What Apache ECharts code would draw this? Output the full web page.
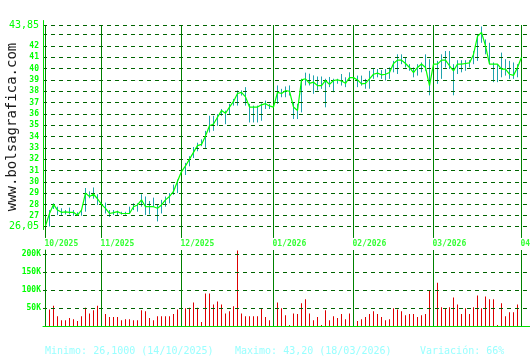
<!DOCTYPE html>
<html><head><meta charset="utf-8">
<script src="https://cdn.jsdelivr.net/npm/echarts@6/dist/echarts.min.js"></script>
<style>html,body{margin:0;padding:0;background:#fff}#c{width:530px;height:360px}</style>
</head><body><div id="c"></div>
<script>
// ---- data ----
const closes = [26.1,27.2,28.0,27.5,27.3,27.35,27.3,27.3,27.05,27.5,29.0,28.7,28.9,28.5,28.0,27.65,27.2,27.27,27.36,27.2,
27.2,27.2,27.8,27.95,28.4,27.8,27.8,27.8,27.66,27.95,28.4,28.7,29.15,30.05,30.9,31.4,32.0,32.6,33.2,33.3,
34.05,34.95,35.1,35.7,36.3,36.05,36.6,37.1,37.8,37.9,37.5,36.6,36.6,36.6,36.8,36.9,36.7,36.6,37.9,37.8,
38.05,38.0,36.6,36.3,39.0,39.1,38.7,38.8,38.5,38.5,38.95,38.6,38.95,39.0,38.9,38.7,39.2,39.2,39.0,38.65,
38.7,39.1,39.5,39.6,39.45,39.5,39.65,40.45,40.75,40.75,40.45,40.1,39.65,40.1,40.4,40.1,38.5,40.4,40.4,40.75,
40.75,40.25,39.8,40.4,40.4,40.45,40.5,41.25,42.85,43.2,42.0,40.4,40.4,40.4,39.95,39.95,39.5,39.4,40.1,41.0];
const highs = [26.5,27.5,28.1,27.8,27.66,27.5,27.72,27.5,27.3,27.6,29.45,29.15,29.5,28.9,28.3,28.16,27.5,27.5,27.45,27.35,
27.35,27.8,28.1,28.1,28.9,28.7,28.3,28.6,27.95,28.4,28.7,29.0,29.75,30.2,31.0,31.67,32.26,33.07,33.45,33.75,
34.5,35.83,35.83,35.98,36.43,36.28,36.88,37.32,38.07,38.07,38.36,36.88,36.73,36.73,36.93,37.17,36.88,36.9,38.51,38.21,
38.42,38.51,37.02,36.88,39.1,39.64,39.55,39.4,39.3,39.3,39.1,39.26,39.1,39.1,39.52,39.23,39.67,39.4,39.38,39.38,
39.09,39.8,39.96,39.96,39.87,39.96,40.1,40.68,41.26,41.26,40.97,40.39,40.1,40.39,40.54,41.26,40.83,40.6,40.68,41.26,
41.55,41.55,40.39,40.74,40.74,40.74,40.74,41.55,43.0,43.72,42.57,42.28,40.54,40.39,41.41,40.83,40.68,40.54,40.39,41.1];
const lows = [26.1,26.05,27.6,27.06,27.06,27.12,27.12,27.0,27.0,27.0,27.36,28.55,28.5,27.95,27.9,27.2,26.9,27.06,27.0,27.1,
27.1,27.2,27.5,27.36,27.8,27.06,27.12,27.8,26.5,27.2,27.8,28.1,28.85,29.0,29.5,30.6,31.37,32.1,32.7,33.15,
33.0,34.35,34.5,34.94,35.83,35.09,35.98,36.73,36.73,37.62,36.73,35.24,35.24,35.24,35.39,36.43,36.43,36.4,36.88,37.47,
37.47,37.62,35.54,35.54,36.13,38.51,38.51,37.77,38.07,38.21,36.58,38.36,37.92,38.66,38.5,38.36,38.94,39.0,38.36,38.5,
38.22,38.22,39.09,39.23,39.09,38.94,39.09,39.67,39.52,40.39,40.1,39.81,39.23,39.38,39.67,39.81,37.64,40.2,38.65,39.09,
40.1,39.96,37.64,39.52,39.67,39.81,40.1,40.39,40.68,42.28,41.26,40.39,38.8,38.8,39.23,39.38,39.09,39.09,39.23,40.1];
const volumesK = [22,46,56,27,16,16,22,19,14,27,51,35,44,56,35,33,25,25,25,16,
19,19,16,16,44,41,22,16,27,27,27,27,33,46,50,49,51,65,51,11,
90,90,60,68,60,35,41,55,210,35,27,27,27,27,49,25,16,30,65,49,
30,3,35,33,63,74,35,16,25,3,44,16,27,22,33,19,35,33,14,19,
25,33,41,33,25,16,19,49,46,41,30,33,33,25,30,33,99,64,120,52,
49,52,79,60,33,49,33,52,85,49,82,74,74,3,63,27,38,38,60,60];
const monthLabels = ['10/2025','11/2025','12/2025','01/2026','02/2026','03/2026','04/2026'];
const monthStartIdx = [0,14,34,57,77,97,119];
const priceGridValues = [26.05,27,28,29,30,31,32,33,34,35,36,37,38,39,40,41,42,43,43.85];
const priceTickLabels = ['26,05','27','28','29','30','31','32','33','34','35','36','37','38','39','40','41','42','','43,85'];
const volumeGridValues = [50,100,150,200];
const volumeTickLabels = ['50K','100K','150K','200K'];
const footerTexts = ['Minimo: 26,1000 (14/10/2025)','Maximo: 43,20 (18/03/2026)','Variación: 66%'];

// ---- layout ----
const XMIN = -0.625, XMAX = 121.125;
const PMIN = 25.034, PMAX = 44.292;
const VMAX = 211.11;
const MONO = '"DejaVu Sans Mono", monospace';
const GRIDC = '#006400', MONTHC = '#008000', AXISC = '#00e000', LBLC = '#00ff00';

const idx = closes.map((_, i) => i);
const closeData = idx.map(i => [i, closes[i]]);
const hlData = idx.map(i => [i, lows[i], highs[i]]);
const volData = idx.map(i => [i, volumesK[i]]);

const dashStyle = {type: [4, 4], color: GRIDC, width: 1, opacity: 1};
const monthStyle = {type: 'solid', color: MONTHC, width: 1, opacity: 1};
const axisStyle = {type: 'solid', color: AXISC, width: 1, opacity: 1};

const priceMarkLines = priceGridValues.map((v, k) => {
  const isEnd = (k === 0 || k === priceGridValues.length - 1);
  return {
    yAxis: v,
    label: {show: priceTickLabels[k] !== '', position: 'start', distance: 4, formatter: priceTickLabels[k],
      color: LBLC, fontFamily: MONO, fontSize: isEnd ? 10 : 8, fontWeight: isEnd ? 'normal' : 'bold'}
  };
});
const priceMonthLines = monthStartIdx.map(i => [{coord: [i, 43.85]}, {coord: [i, 25.04]}]);
const priceAxisLine = [[{coord: [-0.5, 25.75]}, {coord: [-0.5, 44.28]}]];

const volMarkLines = volumeGridValues.map((v, k) => ({
  yAxis: v,
  label: {show: true, position: 'start', distance: 2, formatter: volumeTickLabels[k],
    color: LBLC, fontFamily: MONO, fontSize: 8, fontWeight: 'bold'}
}));
const volMonthLines = monthStartIdx.map(i => [{coord: [i, 0]}, {coord: [i, VMAX - 0.01]}]);

function ml(data, style, z) {
  return {silent: true, symbol: ['none', 'none'], animation: false, z: z || 3,
    lineStyle: style, emphasis: {disabled: true, lineStyle: style}, label: {show: false}, data: data};
}

const chart = echarts.init(document.getElementById('c'), null, {renderer: 'canvas'});
chart.setOption({
  animation: false,
  backgroundColor: '#ffffff',
  grid: [
    {left: 43, right: 0, top: 20, height: 218},
    {left: 43, right: 0, top: 250, height: 76}
  ],
  xAxis: [
    {type: 'value', gridIndex: 0, min: XMIN, max: XMAX, show: false},
    {type: 'value', gridIndex: 1, min: XMIN, max: XMAX,
      axisLine: {show: true, onZero: false, lineStyle: {color: AXISC, width: 1}},
      axisTick: {show: false}, axisLabel: {show: false}, splitLine: {show: false}}
  ],
  yAxis: [
    {type: 'value', gridIndex: 0, min: PMIN, max: PMAX, show: false},
    {type: 'value', gridIndex: 1, min: 0, max: VMAX,
      axisLine: {show: true, lineStyle: {color: AXISC, width: 1}},
      axisTick: {show: false}, axisLabel: {show: false}, splitLine: {show: false}}
  ],
  series: [
    {
      type: 'custom', xAxisIndex: 0, yAxisIndex: 0, z: 2,
      data: hlData,
      renderItem: function (params, api) {
        const p1 = api.coord([api.value(0), api.value(1)]);
        const p2 = api.coord([api.value(0), api.value(2)]);
        return {type: 'line', shape: {x1: p1[0], y1: p1[1], x2: p2[0], y2: p2[1]},
          style: {stroke: '#1fa3ad', lineWidth: 1}};
      },
      markLine: ml(priceMonthLines, monthStyle)
    },
    {
      type: 'line', xAxisIndex: 0, yAxisIndex: 0, z: 4,
      data: closeData, symbol: 'none', lineStyle: {color: '#00ff00', width: 1.2},
      itemStyle: {color: GRIDC},
      markLine: Object.assign(ml(priceMarkLines, dashStyle), {label: {show: true}})
    },
    {
      type: 'scatter', xAxisIndex: 0, yAxisIndex: 0, z: 5,
      data: monthStartIdx.map((i, k) => ({value: [i, 25.05], name: monthLabels[k]})),
      symbolSize: 1, itemStyle: {color: 'rgba(0,0,0,0)'},
      label: {show: true, formatter: p => p.name, position: [-0.5, 3], align: 'left', verticalAlign: 'top',
        color: LBLC, fontFamily: MONO, fontSize: 8, fontWeight: 'bold'},
      silent: true,
      markLine: ml(priceAxisLine, axisStyle)
    },
    {
      type: 'bar', xAxisIndex: 1, yAxisIndex: 1, z: 2,
      data: volData, barWidth: 1, itemStyle: {color: '#dd0000'},
      markLine: Object.assign(ml(volMarkLines, dashStyle), {label: {show: true}})
    },
    {
      type: 'scatter', xAxisIndex: 1, yAxisIndex: 1, z: 3,
      data: [[0, 0]], symbolSize: 0.01, itemStyle: {color: 'rgba(0,0,0,0)'}, silent: true,
      markLine: ml(volMonthLines, monthStyle)
    }
  ],
  graphic: [
    {type: 'text', x: 12, y: 127, rotation: Math.PI / 2,
      style: {text: 'www.bolsagrafica.com', x: 0, y: 0, align: 'center', verticalAlign: 'middle',
        textAlign: 'center', textVerticalAlign: 'middle', font: '14px ' + MONO, fill: '#1a1a1a'}},
    {type: 'text', x: 45, y: 351, style: {text: footerTexts[0], verticalAlign: 'middle', textVerticalAlign: 'middle', font: '10px ' + MONO, fill: '#99ffff'}},
    {type: 'text', x: 235, y: 351, style: {text: footerTexts[1], verticalAlign: 'middle', textVerticalAlign: 'middle', font: '10px ' + MONO, fill: '#99ffff'}},
    {type: 'text', x: 420, y: 351, style: {text: footerTexts[2], verticalAlign: 'middle', textVerticalAlign: 'middle', font: '10px ' + MONO, fill: '#99ffff'}}
  ]
});
</script></body></html>
